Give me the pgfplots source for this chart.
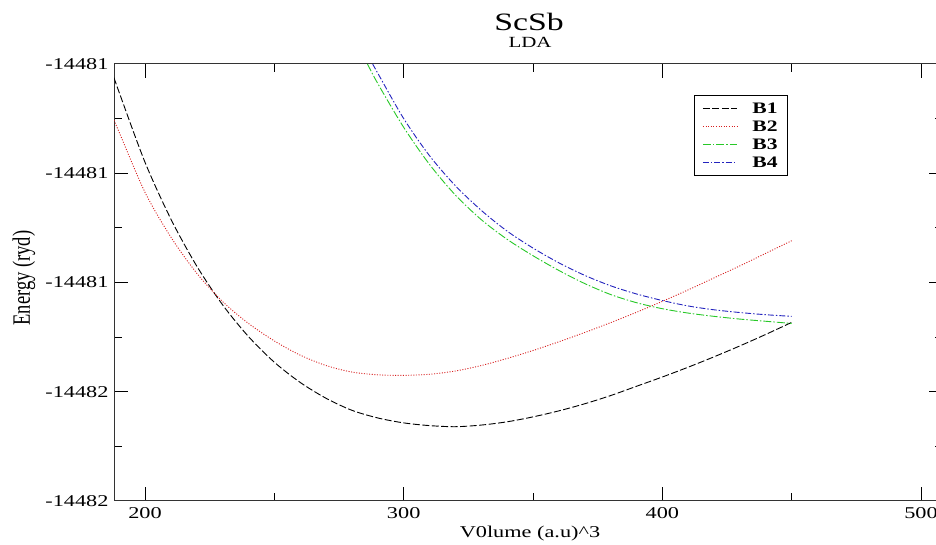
\documentclass[border=0pt]{standalone}
\usepackage{fontspec}
\setmainfont{Liberation Serif}[FakeStretch=1.35]
\newfontfamily\plainserif{Liberation Serif}
\usepackage{graphicx}
\usepackage{pgfplots}
\pgfplotsset{compat=1.18}
\definecolor{gRed}{RGB}{215,30,30}
\definecolor{gGreen}{RGB}{40,200,40}
\definecolor{gBlue}{RGB}{35,35,190}
% y values are E + 14481 (ryd)
\pgfplotstableread{
x y
188 -0.025
190 -0.052
200 -0.180
210 -0.284
220 -0.370
230 -0.441
240 -0.499
250 -0.546
260 -0.583
270 -0.612
280 -0.634
290 -0.648
300 -0.657
310 -0.662
320 -0.664
330 -0.661
340 -0.655
350 -0.646
360 -0.635
370 -0.622
380 -0.607
390 -0.590
400 -0.573
410 -0.555
420 -0.536
430 -0.516
440 -0.495
450 -0.473
}\Bone
\pgfplotstableread{
x y
188 -0.103
190 -0.125
200 -0.235
210 -0.317
220 -0.383
230 -0.435
240 -0.475
250 -0.507
260 -0.533
270 -0.552
280 -0.564
290 -0.569
300 -0.570
310 -0.568
320 -0.562
330 -0.552
340 -0.539
350 -0.5245
360 -0.5085
370 -0.4915
380 -0.4735
390 -0.4545
400 -0.4345
410 -0.4135
420 -0.3915
430 -0.3695
440 -0.3465
450 -0.3235
}\Btwo
\pgfplotstableread{
x y
286 0.0
290 -0.036
300 -0.116
310 -0.184
320 -0.240
330 -0.285
340 -0.321
350 -0.351
360 -0.378
370 -0.402
380 -0.422
390 -0.437
400 -0.448
410 -0.456
420 -0.462
430 -0.467
440 -0.471
450 -0.475
}\Bthree
\pgfplotstableread{
x y
288 0.0
290 -0.017
300 -0.100
310 -0.168
320 -0.223
330 -0.268
340 -0.306
350 -0.337
360 -0.364
370 -0.387
380 -0.406
390 -0.421
400 -0.433
410 -0.443
420 -0.450
430 -0.455
440 -0.459
450 -0.462
}\Bfour
\begin{document}
\begin{tikzpicture}
\path[use as bounding box] (0pt,0pt) rectangle (936pt,545pt);
\begin{axis}[
  at={(114pt,44pt)}, anchor=south west,
  scale only axis, width=829pt, height=437pt,
  xmin=188, xmax=508.5, ymin=-0.8, ymax=0,
  xtick={200,300,400,500},
  minor x tick num=1,
  ytick={-0.8,-0.6,-0.4,-0.2,0},
  yticklabels={-14482,-14482,-14481,-14481,-14481},
  minor y tick num=1,
  tick align=inside,
  major tick length=14pt, minor tick length=8pt,
  every tick/.style={black, line width=1pt},
  axis line style={line width=1pt, black!80},
  tick label style={font=\fontsize{16.5}{18}\selectfont},
  /pgf/number format/assume math mode=true,
  xticklabel style={yshift=-3pt},
  yticklabel style={xshift=-2pt},
  clip=true,
  legend style={at={(axis description cs:0.6996,0.929)}, anchor=north west,
    draw=black, line width=1pt, fill=white,
    font=\bfseries\fontsize{16}{16}\selectfont,
    inner xsep=8pt, inner ysep=4pt, row sep=0pt, column sep=13pt,
    nodes={inner ysep=3pt, inner xsep=2pt}},
  legend cell align=left,
  legend image code/.code={\draw[#1] (0pt,0pt) -- (34pt,0pt);},
]
\addplot[black, line width=0.9pt, dash pattern=on 7pt off 2.5pt, smooth] table {\Bone};
\addlegendentry{B1}
\addplot[gRed, line width=0.9pt, dash pattern=on 1pt off 1.6pt, smooth] table {\Btwo};
\addlegendentry{B2}
\addplot[gGreen, line width=0.9pt, dash pattern=on 8pt off 2pt on 1.5pt off 2pt, smooth] table {\Bthree};
\addlegendentry{B3}
\addplot[gBlue, line width=0.9pt, dash pattern=on 6pt off 2pt on 1.5pt off 2pt, smooth] table {\Bfour};
\addlegendentry{B4}
\end{axis}
\node[anchor=base, inner sep=0pt, font=\fontsize{25}{27}\selectfont] at (529pt,514pt) {ScSb};
\node[anchor=base, inner sep=0pt, font=\fontsize{15.5}{17}\selectfont] at (530pt,497pt) {LDA};
\node[anchor=base, inner sep=0pt, font=\fontsize{16.5}{18}\selectfont] at (530pt,7pt) {V0lume (a.u)\textasciicircum 3};
\node[rotate=90, inner sep=0pt] at (24pt,267pt) {\scalebox{1}[1.35]{\plainserif\fontsize{18.5}{20}\selectfont Energy (ryd)}};
\end{tikzpicture}
\end{document}
